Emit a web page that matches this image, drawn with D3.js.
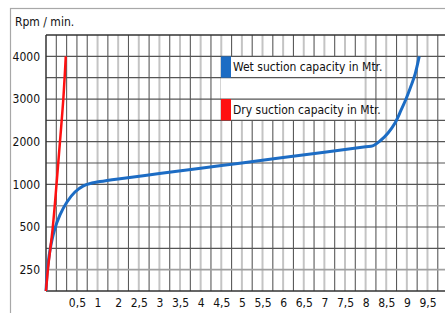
<!DOCTYPE html>
<html>
<head>
<meta charset="utf-8">
<script src="https://cdn.jsdelivr.net/npm/d3@7"></script>
<style>
html,body{margin:0;padding:0;background:#fff;}
svg{display:block;}
text{font-family:"Liberation Sans Narrow","Arial Narrow","DejaVu Sans Condensed",sans-serif;}
</style>
</head>
<body>
<svg id="chart" width="445" height="313"></svg>
<script>
// ---- data ----
const xTickValues = [0.5, 1, 2, 2.5, 3, 3.5, 4, 4.5, 5, 5.5, 6, 6.5, 7, 7.5, 8, 8.5, 9, 9.5];
const xTickLabels = ["0,5","1","2","2,5","3","3,5","4","4,5","5","5,5","6","6,5","7","7,5","8","8,5","9","9,5"];
const yTickValues = [250, 500, 1000, 2000, 3000, 4000];
const yTickLabels = ["250","500","1000","2000","3000","4000"];
const yTitle = "Rpm / min.";

const wetX = [0, 0.024, 0.065, 0.137, 0.226, 0.339, 0.468, 0.647, 0.865, 1.12, 2, 3, 4, 5, 6, 7, 8, 8.17, 8.349, 8.544, 8.713, 8.859, 8.98, 9.10, 9.2, 9.3];
const wetY = [0, 250, 365, 482, 641, 793, 910, 980, 1030, 1066, 1128, 1253, 1377, 1503, 1628, 1754, 1880, 1900, 2016, 2204, 2438, 2738, 3000, 3304, 3585, 4000];
const dryX = [0, 0.03, 0.11, 0.17, 0.226, 0.28, 0.32];
const dryY = [0, 250, 500, 1000, 2000, 3000, 4000];

const seriesNames = ["Wet suction capacity in Mtr.", "Dry suction capacity in Mtr."];
const seriesColors = ["#1c6cc4", "#ff1010"];

// ---- layout ----
const svg = d3.select("#chart");
const plotLeft = 46, plotBottom = 291, xStep = 10.31, yStep = 21.33;
const nV = 39, nH = 12;
const plotTop = plotBottom - nH * yStep;
const FONT = '"Liberation Sans Narrow","Arial Narrow","DejaVu Sans Condensed",sans-serif';

// polylinear x scale: 0 at the axis, first tick 3 grid steps in, then 2 steps per tick
const xDom = [0].concat(xTickValues).concat([10]);
const xRange = xDom.map((d, i) => plotLeft + (i === 0 ? 0 : (1 + 2 * i)) * xStep);
const x = d3.scaleLinear().domain(xDom).range(xRange);

// polylinear y scale: 250 at 1 step, then 2 steps per tick
const yDom = [0].concat(yTickValues).concat([4500]);
const yRange = yDom.map((d, i) => plotBottom - (i === 0 ? 0 : (i === yDom.length - 1 ? nH : (2 * i - 1))) * yStep);
const y = d3.scaleLinear().domain(yDom).range(yRange);

// outer frame
svg.append("rect").attr("x", 10.5).attr("y", 8.5).attr("width", 470).attr("height", 330)
  .attr("fill", "#fff").attr("stroke", "#a8a8a8").attr("stroke-width", 1.2);

// vertical grid
const g = svg.append("g");
for (let i = 1; i <= nV; i++) {
  const light = i >= 5 && i % 2 === 1;
  g.append("line")
    .attr("x1", plotLeft + i * xStep).attr("x2", plotLeft + i * xStep)
    .attr("y1", plotTop).attr("y2", plotBottom)
    .attr("stroke", light ? "#c4c4c4" : "#5a5a5a")
    .attr("stroke-width", light ? 2 : 1.1);
}

// legend background (hides vertical grid)
const legX = 221, legY = y(4000), rowH = yStep;
svg.append("rect").attr("x", legX).attr("y", legY).attr("width", 136).attr("height", rowH * 3)
  .attr("fill", "#fff");

// horizontal grid
const g2 = svg.append("g");
for (let j = 1; j < nH; j++) {
  const light = (j === 1 || j === 4);
  g2.append("line")
    .attr("x1", plotLeft).attr("x2", 450)
    .attr("y1", plotBottom - j * yStep).attr("y2", plotBottom - j * yStep)
    .attr("stroke", light ? "#a0a0a0" : "#555")
    .attr("stroke-width", light ? 1.6 : 1.2);
}

// plot frame
svg.append("line").attr("x1", plotLeft).attr("x2", 450).attr("y1", plotTop).attr("y2", plotTop)
  .attr("stroke", "#333").attr("stroke-width", 1.5);
svg.append("line").attr("x1", plotLeft).attr("x2", 450).attr("y1", plotBottom).attr("y2", plotBottom)
  .attr("stroke", "#333").attr("stroke-width", 1.5);
svg.append("line").attr("x1", plotLeft).attr("x2", plotLeft).attr("y1", plotTop).attr("y2", plotBottom)
  .attr("stroke", "#333").attr("stroke-width", 1.5);

// axes (labels only)
const xAxis = d3.axisBottom(x).tickValues(xTickValues).tickFormat((d, i) => xTickLabels[i]).tickSize(0).tickPadding(0);
const xa = svg.append("g").attr("transform", `translate(0,${plotBottom + 6})`).call(xAxis);
xa.select(".domain").remove();
xa.selectAll("text").attr("font-size", 12).attr("fill", "#111").attr("dy", "0.85em")
  .style("font-family", FONT);

const yAxis = d3.axisLeft(y).tickValues(yTickValues).tickFormat((d, i) => yTickLabels[i]).tickSize(0).tickPadding(0);
const ya = svg.append("g").attr("transform", `translate(${plotLeft - 6},0)`).call(yAxis);
ya.select(".domain").remove();
ya.selectAll("text").attr("font-size", 12).attr("fill", "#111")
  .style("font-family", FONT);

svg.append("text").attr("x", 15).attr("y", 26).attr("font-size", 12).attr("fill", "#111").text(yTitle);

// legend
seriesNames.forEach((name, i) => {
  const ry = legY + i * 2 * rowH;
  svg.append("rect").attr("x", legX).attr("y", ry).attr("width", 10).attr("height", rowH)
    .attr("fill", seriesColors[i]);
  svg.append("text").attr("x", legX + 12).attr("y", ry + rowH / 2).attr("dy", "0.35em")
    .attr("font-size", 12).attr("fill", "#111").text(name);
});

// curves
const line = d3.line().x(d => x(d[0])).y(d => y(d[1])).curve(d3.curveCatmullRom.alpha(0.5));
const wet = wetX.map((v, i) => [v, wetY[i]]);
const dry = dryX.map((v, i) => [v, dryY[i]]);
svg.append("path").datum(wet).attr("d", line).attr("fill", "none")
  .attr("stroke", seriesColors[0]).attr("stroke-width", 3);
svg.append("path").datum(dry).attr("d", line).attr("fill", "none")
  .attr("stroke", seriesColors[1]).attr("stroke-width", 2.5);
</script>
</body>
</html>
